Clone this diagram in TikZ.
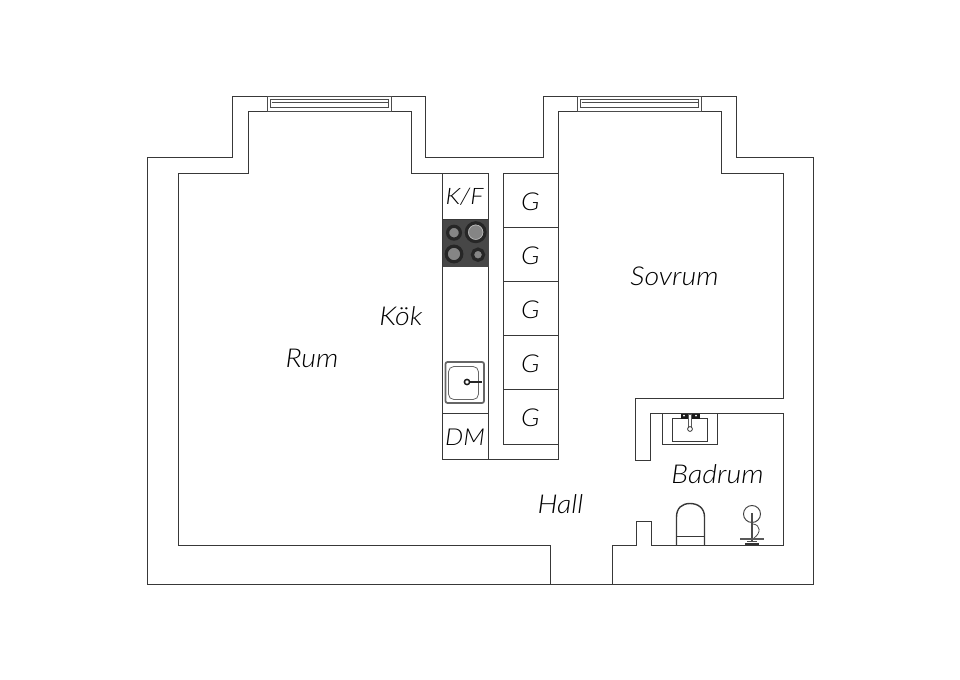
\documentclass[tikz,border=0pt]{standalone}
\usepackage{fontspec}
\setmainfont{Lato Light Italic}[FakeStretch=1.1]
\tikzset{
 wall/.style={draw=black!78,line width=1.05pt,line join=miter},
 thin wall/.style={draw=black!70,line width=0.9pt},
 lab/.style={font=\fontsize{19.5}{22}\selectfont,text=black,inner sep=0pt},
 labg/.style={font=\fontsize{18.5}{22}\selectfont,text=black,inner sep=0pt},
 labd/.style={font=\fontsize{17.5}{22}\selectfont,text=black,inner sep=0pt},
 labs/.style={font=\fontsize{17}{20}\selectfont,text=black,inner sep=0pt},
 burner/.style={fill=black!48,draw=black!85,line width=2.4pt},
}
\begin{document}
\begin{tikzpicture}[x=0.75pt,y=-0.75pt]
\path[use as bounding box,fill=white] (0,0) rectangle (960,679);
% outer wall
\draw[wall] (147.5,157.5) -- (232.5,157.5) -- (232.5,96.5) -- (425.5,96.5) -- (425.5,157.5) -- (543.5,157.5) -- (543.5,96.5) -- (736.5,96.5) -- (736.5,157.5) -- (813.5,157.5) -- (813.5,584.5) -- (147.5,584.5) -- cycle;
% room and kitchen inner wall
\draw[wall] (550.5,584.5) -- (550.5,545.5) -- (178.5,545.5) -- (178.5,173.5) -- (248.5,173.5) -- (248.5,111.5) -- (411.5,111.5) -- (411.5,173.5) -- (488.5,173.5);
\draw[wall] (442.5,173.5) -- (442.5,459.5) -- (558.5,459.5) -- (558.5,111.5) -- (721.5,111.5) -- (721.5,173.5) -- (783.5,173.5) -- (783.5,398.5) -- (635.5,398.5) -- (635.5,460.5) -- (650.5,460.5) -- (650.5,413.5) -- (783.5,413.5) -- (783.5,545.5) -- (651.5,545.5) -- (651.5,521.5) -- (636.5,521.5) -- (636.5,545.5) -- (612.5,545.5) -- (612.5,584.5);
% kitchen column
\draw[wall] (488.5,173.5) -- (488.5,459.5);
\draw[wall] (442.5,219.5) -- (488.5,219.5) (442.5,266.5) -- (488.5,266.5) (442.5,413.5) -- (488.5,413.5);
% wardrobes
\draw[wall] (558.5,173.5) -- (503.5,173.5) -- (503.5,444.5) -- (558.5,444.5);
\foreach \y in {227.5,281.5,335.5,389.5} \draw[wall] (503.5,\y) -- (558.5,\y);
% windows
\foreach \x in {267.5,577.5}{
 \draw[thin wall] (\x,96.5) rectangle ++(124,15);
 \draw[thin wall] (\x+3,99.5) rectangle ++(118,8);
 \draw[thin wall] (\x+4,102.5) -- ++(116,0);
}
% hob
\fill[black!72] (442.5,219.5) rectangle (488.5,266.5);
\draw[burner] (454,232.7) circle (6.4);
\draw[burner] (475.7,232.2) circle (9.4);
\draw[black!25,line width=0.4pt] (475.7,232.2) circle (7.2);
\draw[burner] (454,254) circle (7.8);
\draw[burner] (478,254.7) circle (5.6);
% sink
\draw[black!60,line width=1.3pt,rounded corners=1.5pt] (445.5,362) rectangle (484,403);
\draw[black!60,line width=0.6pt,rounded corners=4pt] (448.5,366.5) rectangle (478.5,399.5);
\draw[black!90,line width=1.1pt] (467,382) circle (2.6);
\draw[black!85,line width=1.1pt] (469.6,382) -- (482,382);
% bathroom sink
\draw[wall] (662.5,413.5) -- (662.5,444.5) -- (717.5,444.5) -- (717.5,413.5);
\draw[wall] (672.5,418.5) rectangle (707.5,441.5);
\fill[black!90] (680.5,413.5) rectangle (699.5,418.5);
\fill[white] (684,415.5) circle (1) (696,415.5) circle (1);
\draw[black!65,fill=white,line width=0.5pt] (688.5,414) rectangle (691.5,427);
\draw[black!80,fill=white,line width=0.6pt] (690,429) circle (2.4);
% toilet
\draw[wall] (676.5,545.5) -- (676.5,517) .. controls (676.5,508) and (682,503.5) .. (690,503.5) .. controls (698,503.5) and (704.5,508) .. (704.5,517) -- (704.5,545.5);
\draw[wall] (676.5,536.5) -- (704.5,536.5);
% shower
\draw[black!75,line width=0.7pt] (752,514) circle (8.5);
\draw[black!70,line width=2.2pt] (752,513) -- (752,541);
\draw[black!70,line width=0.6pt] (753,524) .. controls (761,525) and (761,533) .. (754,538);
\draw[black!65,line width=2pt] (740,539) -- (764,539);
\draw[black!80,line width=2pt] (745,544) -- (759,544);
\draw[black!70,line width=0.6pt] (747,541) -- (757,541);
% labels
\node[lab] (rum) at (312,358) {Rum};
\node[lab] (kok) at (401,316) {Kök};
\node[lab] (sovrum) at (674.5,276) {Sovrum};
\node[lab] (badrum) at (717.5,474) {Badrum};
\node[lab] (hall) at (560.5,504) {Hall};
\node[labs] (kf) at (464.5,197) {K/F};
\node[labd] (dm) at (465,437) {DM};
\node[labg] (g1) at (530.5,201.5) {G};
\node[labg] (g2) at (530.5,255.5) {G};
\node[labg] (g3) at (530.5,310) {G};
\node[labg] (g4) at (530.5,364) {G};
\node[labg] (g5) at (530.5,418) {G};
\end{tikzpicture}
\end{document}
